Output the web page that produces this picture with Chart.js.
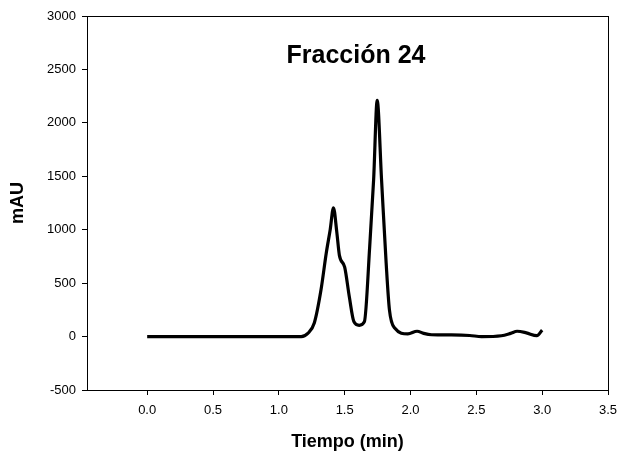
<!DOCTYPE html>
<html>
<head>
<meta charset="utf-8">
<script src="https://cdn.jsdelivr.net/npm/chart.js@4/dist/chart.umd.min.js"></script>
<style>
  html, body { margin: 0; padding: 0; background: #fff; }
  #wrap { width: 620px; height: 457px; }
</style>
</head>
<body>
<div id="wrap"><canvas id="chart"></canvas></div>
<script>
// --- datos del cromatograma ---
const tiempo = [0, 0.5, 1.0, 1.17, 1.22, 1.27, 1.32, 1.36, 1.39, 1.415, 1.44, 1.46, 1.5, 1.535, 1.57, 1.61, 1.65, 1.69, 1.72, 1.747, 1.78, 1.815, 1.84, 1.88, 1.98, 2.05, 2.1, 2.16, 2.31, 2.45, 2.54, 2.69, 2.76, 2.81, 2.88, 2.96, 3.0];
const mau = [0, 0, 0, 0, 30, 130, 435, 780, 1000, 1205, 980, 760, 650, 375, 140, 105, 140, 840, 1470, 2210, 1470, 690, 250, 80, 25, 50, 30, 17, 15, 10, 0, 8, 30, 50, 35, 8, 60];

const xTicks = [0, 0.5, 1.0, 1.5, 2.0, 2.5, 3.0, 3.5];
const yTicks = [-500, 0, 500, 1000, 1500, 2000, 2500, 3000];
const titulo = 'Fracción 24';

// marco completo alrededor del area + titulo dentro
const marco = {
  id: 'marco',
  afterDraw(chart) {
    const { ctx, chartArea: a } = chart;
    ctx.save();
    ctx.strokeStyle = '#000';
    ctx.lineWidth = 1;
    ctx.strokeRect(a.left + 0.5, a.top + 0.5, a.right - a.left, a.bottom - a.top);
    ctx.fillStyle = '#000';
    ctx.font = 'bold 25px "Liberation Sans", Arial, sans-serif';
    ctx.textAlign = 'center';
    ctx.textBaseline = 'alphabetic';
    ctx.fillText(titulo, 356, 63);
    ctx.restore();
  }
};

const tickFont = { family: '"Liberation Sans", Arial, sans-serif', size: 13 };
const labelFont = { family: '"Liberation Sans", Arial, sans-serif', size: 18, weight: 'bold' };

new Chart(document.getElementById('chart'), {
  type: 'line',
  data: {
    datasets: [{
      data: tiempo.map((t, i) => ({ x: t, y: mau[i] })),
      borderColor: '#000',
      borderWidth: 3.2,
      pointRadius: 0,
      fill: false,
      cubicInterpolationMode: 'monotone'
    }]
  },
  options: {
    responsive: true,
    maintainAspectRatio: false,
    animation: false,
    layout: { padding: { left: 0, right: 12, top: 16, bottom: 0 } },
    plugins: { legend: { display: false }, tooltip: { enabled: false } },
    scales: {
      x: {
        type: 'linear',
        min: -0.457,
        max: 3.5,
        afterBuildTicks: s => { s.ticks = xTicks.map(v => ({ value: v })); },
        afterFit: s => { s.height = 67; s.paddingLeft = 0; s.paddingRight = 0; },
        grid: { drawOnChartArea: false, drawTicks: true, tickLength: 5, color: '#000' },
        border: { display: true, color: '#000', width: 1 },
        ticks: { color: '#000', font: tickFont, padding: 8, maxRotation: 0, callback: v => v.toFixed(1) },
        title: { display: true, text: 'Tiempo (min)', color: '#000', font: labelFont, padding: { top: 0, bottom: 4 } }
      },
      y: {
        min: -500,
        max: 3000,
        afterBuildTicks: s => { s.ticks = yTicks.map(v => ({ value: v })); },
        afterFit: s => { s.width = 87; s.paddingTop = 0; s.paddingBottom = 0; },
        grid: { drawOnChartArea: false, drawTicks: true, tickLength: 5, color: '#000' },
        border: { display: true, color: '#000', width: 1 },
        ticks: { color: '#000', font: tickFont, padding: 6, callback: v => String(v) },
        title: { display: true, text: 'mAU', color: '#000', font: labelFont, padding: { top: 7, bottom: 0 } }
      }
    }
  },
  plugins: [marco]
});
</script>
</body>
</html>
